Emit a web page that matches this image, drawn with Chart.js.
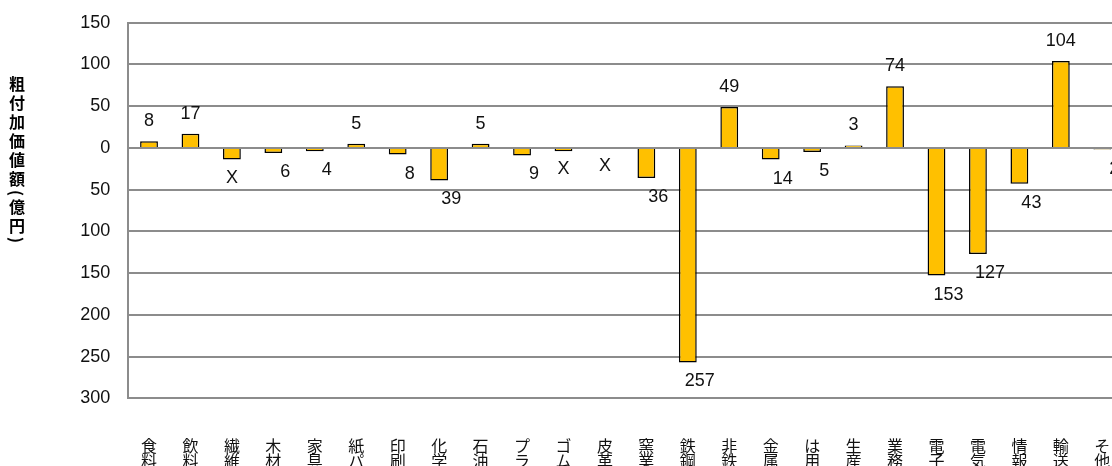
<!DOCTYPE html>
<html lang="ja">
<head>
<meta charset="utf-8">
<title>業種別 粗付加価値額</title>
<script src="https://cdn.jsdelivr.net/npm/chart.js@4.4.1/dist/chart.umd.min.js"></script>
<style>
  html, body { margin: 0; padding: 0; background: #fff; overflow: hidden; }
  body { width: 1112px; height: 466px; position: relative; }
  #chart { position: absolute; left: 0; top: 0; }
  #ytitle {
    position: absolute; left: 9px; top: 76px;
    writing-mode: vertical-rl; text-orientation: mixed;
    font-family: "Noto Sans CJK JP", sans-serif; font-weight: 700;
    font-size: 16px; letter-spacing: 3px; line-height: 1; color: #000;
  }
</style>
</head>
<body>
<canvas id="chart" width="1124" height="466"></canvas>
<div id="ytitle">粗付加価値額(億円)</div>
<script>
// Industry categories (two-character abbreviations, stacked vertically under the axis)
const categories = [
  ['食','料'], ['飲','料'], ['繊','維'], ['木','材'], ['家','具'], ['紙','パ'],
  ['印','刷'], ['化','学'], ['石','油'], ['プ','ラ'], ['ゴ','ム'], ['皮','革'],
  ['窯','業'], ['鉄','鋼'], ['非','鉄'], ['金','属'], ['は','用'], ['生','産'],
  ['業','務'], ['電','子'], ['電','気'], ['情','報'], ['輸','送'], ['そ','他']
];

// Gross value added change (100 million yen); negative values drop below zero
const values = [
  8, 17, -14, -6, -4, 5,
  -8, -39, 5, -9, -4, null,
  -36, -257, 49, -14, -5, 3,
  74, -153, -127, -43, 104, -2
];

// Categories whose figures are withheld (labelled "X")
const withheld = ['繊維', 'ゴム', '皮革'];

// Axis ticks (shown as magnitudes)
const yTicks = [150, 100, 50, 0, -50, -100, -150, -200, -250, -300];

const gridColor = '#8c8c8c';
const numFont = '"Liberation Sans", Arial, sans-serif';

// Draws the zero line over the bars, then the value labels
const valueLabels = {
  id: 'valueLabels',
  afterDatasetsDraw(chart) {
    const { ctx, chartArea, scales } = chart;
    const y0 = scales.y.getPixelForValue(0);
    ctx.save();
    ctx.strokeStyle = gridColor;
    ctx.lineWidth = 2;
    ctx.beginPath();
    ctx.moveTo(chartArea.left, y0);
    ctx.lineTo(chartArea.right, y0);
    ctx.stroke();

    ctx.font = '18px ' + numFont;
    ctx.fillStyle = '#111';
    ctx.textAlign = 'center';
    ctx.textBaseline = 'middle';
    values.forEach((v, i) => {
      const name = categories[i].join('');
      const x = scales.x.getPixelForValue(i);
      if (withheld.includes(name)) {
        const base = v == null ? y0 : scales.y.getPixelForValue(v);
        ctx.fillText('X', x, Math.max(base, y0) + 18);
        return;
      }
      const yv = scales.y.getPixelForValue(v);
      const text = String(Math.abs(v));
      if (v >= 0) {
        ctx.fillText(text, x, yv - 20);
      } else {
        ctx.fillText(text, x + 12, yv + 19);
      }
    });
    ctx.restore();
  }
};

new Chart(document.getElementById('chart'), {
  type: 'bar',
  data: {
    labels: categories,
    datasets: [{
      data: values,
      backgroundColor: '#FFC000',
      borderColor: '#000',
      borderWidth: 1.5,
      borderSkipped: 'start',
      barPercentage: 0.43,
      categoryPercentage: 1.0
    }]
  },
  options: {
    responsive: false,
    animation: false,
    layout: { padding: { top: 22.7, left: 0, right: 1, bottom: 0 } },
    plugins: { legend: { display: false }, tooltip: { enabled: false } },
    scales: {
      x: {
        grid: { display: false, drawTicks: false },
        border: { display: true, color: gridColor, width: 2 },
        ticks: {
          color: '#111',
          font: { family: '"Noto Sans CJK JP", sans-serif', size: 16, lineHeight: 0.95 },
          padding: 40,
          maxRotation: 0,
          autoSkip: false
        },
        afterFit(scale) {
          scale.height = 67.7;
          scale.paddingLeft = 0;
          scale.paddingRight = 0;
        }
      },
      y: {
        min: -300,
        max: 150,
        afterBuildTicks(scale) { scale.ticks = yTicks.map(v => ({ value: v })); },
        grid: { color: gridColor, lineWidth: 2, drawTicks: false },
        border: { display: true, color: gridColor, width: 2 },
        ticks: {
          color: '#111',
          font: { family: numFont, size: 18 },
          padding: 18,
          callback: v => String(Math.abs(v))
        },
        afterFit(scale) {
          scale.width = 128.3;
          scale.paddingTop = 0;
          scale.paddingBottom = 0;
        }
      }
    }
  },
  plugins: [valueLabels]
});
</script>
</body>
</html>
